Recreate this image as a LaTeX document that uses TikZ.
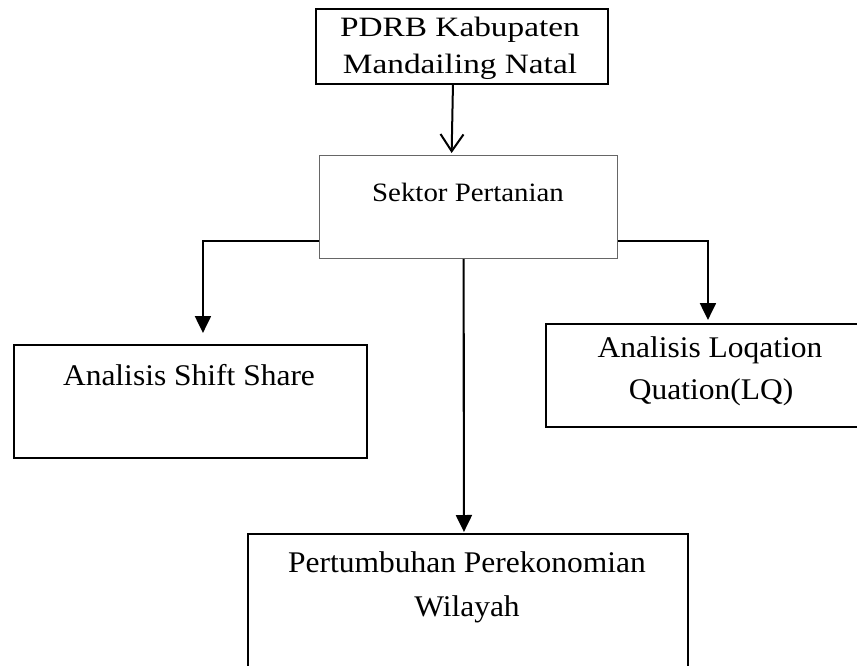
\documentclass[tikz,border=0pt]{standalone}
\usepackage{fontspec}
\setmainfont{Liberation Serif}
\newfontfamily\fA[FakeStretch=1.19]{Liberation Serif}
\newfontfamily\fB[FakeStretch=1.05]{Liberation Serif}
\newfontfamily\fC[FakeStretch=1.09]{Liberation Serif}
\usetikzlibrary{arrows.meta,calc}
\begin{document}
\begin{tikzpicture}[x=1pt,y=-1pt,
  box/.style={draw=black,line width=1.9pt,rectangle,inner sep=0pt,anchor=north west},
  lightbox/.style={draw=black!60,line width=1.2pt,rectangle,inner sep=0pt,anchor=north west},
  lbl/.style={anchor=base,inner sep=0pt},
  conn/.style={draw=black,line width=2.1pt,-{Triangle[length=17pt,width=16pt]}},
  openconn/.style={draw=black,line width=2pt,-{Straight Barb[length=17pt,width=23pt]}}]
\useasboundingbox (0,0) rectangle (857,666);
\clip (0,0) rectangle (857,666);
\fill[white] (0,0) rectangle (857,666);
% boxes
\node[box,minimum width=292pt,minimum height=75pt] (top) at (315,8) {};
\node[lightbox,minimum width=298pt,minimum height=103pt] (sek) at (319,155) {};
\node[box,minimum width=353pt,minimum height=113pt] (lb) at (13,344) {};
\node[box,minimum width=330pt,minimum height=103pt] (rb) at (545,323) {};
\node[box,minimum width=440pt,minimum height=170pt] (bb) at (247,533) {};
% texts
\node[lbl] (t1) at (460,36.7) {\fontsize{28}{28}\fA PDRB Kabupaten};
\node[lbl] (t2) at (460,73.3) {\fontsize{28}{28}\fA Mandailing Natal};
\node[lbl] (t3) at (468,201) {\fontsize{26.5}{26.5}\fC Sektor Pertanian};
\node[lbl] (t4) at (189,385) {\fontsize{30}{30}\fB Analisis Shift Share};
\node[lbl] (t5) at (710,357.7) {\fontsize{30}{30}\fB Analisis Loqation};
\node[lbl] (t6) at (711,399.3) {\fontsize{30}{30}\fB Quation(LQ)};
\node[lbl] (t7) at (467,572.7) {\fontsize{30}{30}\fB Pertumbuhan Perekonomian};
\node[lbl] (t8) at (467,616) {\fontsize{30}{30}\fB Wilayah};
% connectors
\draw[openconn,shorten >=2pt] ([xshift=-9pt]top.south) -- ([xshift=-17pt]sek.north);
\draw[conn,shorten >=11pt] ([yshift=-33.5pt]sek.west) -| ([xshift=12.5pt]lb.north);
\draw[conn,shorten >=3pt] ([yshift=-33.5pt]sek.east) -| ([xshift=-3pt]rb.north);
\draw[conn,shorten >=1pt] ([xshift=-5pt]sek.south) -- ([xshift=-4pt]bb.north);
\end{tikzpicture}
\end{document}
